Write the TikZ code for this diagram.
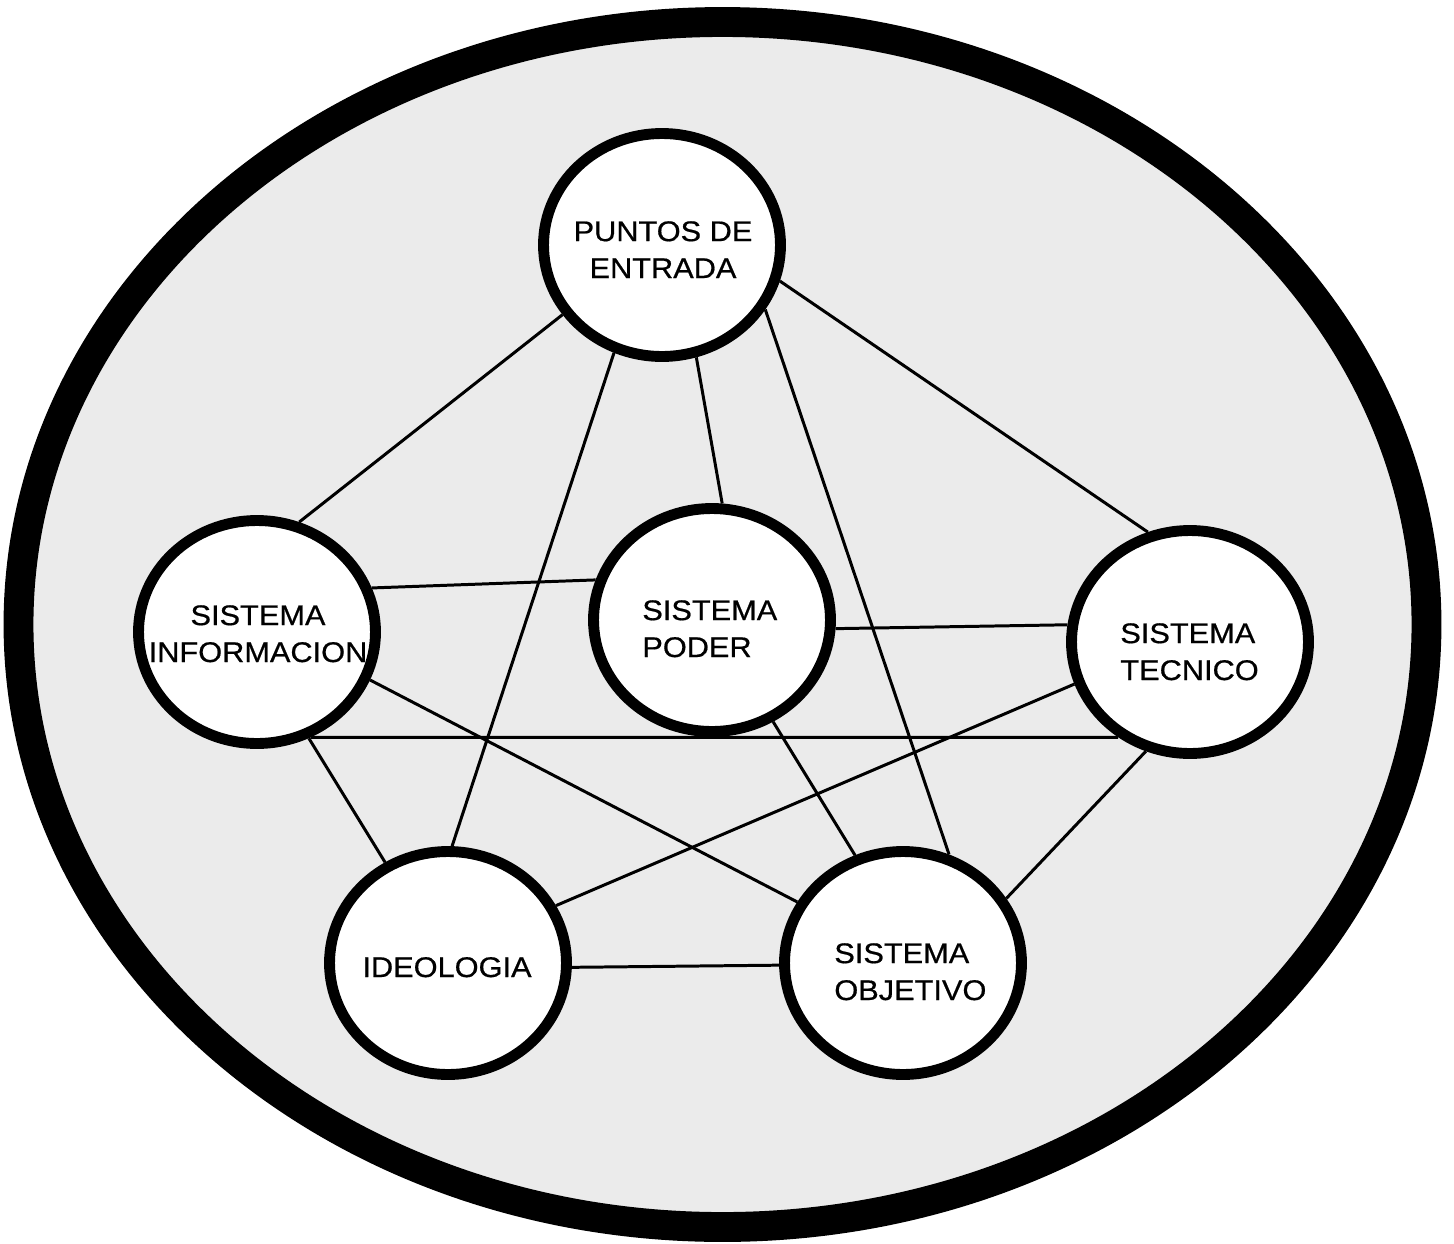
\documentclass[tikz,border=0pt]{standalone}
\usepackage{fontspec}
\newfontfamily\labfont[FakeStretch=1.08,FakeBold=0.6]{Liberation Sans}
\usetikzlibrary{shapes.geometric}
\definecolor{bgfill}{HTML}{EBEBEB}
\begin{document}
\begin{tikzpicture}[x=0.02cm, y=-0.02cm,
  bubble/.style={ellipse, draw=black, fill=white, line width=6.2pt,
    minimum width=4.74cm, minimum height=4.46cm, inner sep=0pt},
  link/.style={line width=1.7pt, draw=black},
  lbl/.style={font=\labfont\fontsize{16.2}{21}\selectfont, inner sep=0pt}]
\useasboundingbox (0,0) rectangle (1454,1244);
\fill[white] (0,0) rectangle (1454,1244);
\begin{scope}
\clip (0,0) rectangle (1454,1244);
\draw[line width=17pt, fill=bgfill] (722.5,624.5) ellipse [x radius=704, y radius=602.5];
\end{scope}
% bubbles
\node[bubble] (PE) at (662,245) {};
\node[bubble] (SI) at (257,632) {};
\node[bubble] (SP) at (712,620) {};
\node[bubble] (TEC) at (1190,642) {};
\node[bubble] (IDEO) at (448,963) {};
\node[bubble] (OBJ) at (903,963) {};
% connectors
\draw[link] (PE.215.6) -- (SI.69.9);
\draw[link] (PE.246.4) -- (IDEO.88.5);
\draw[link] (PE.287.4) -- (SP.85.2);
\draw[link] (PE.328.5) -- (OBJ.67.5);
\draw[link] (PE.343.9) -- (TEC.111.3);
\draw[link] (SI.21.2) -- (SP.161.6);
\draw[link] (SI.337.9) -- (OBJ.150.8);
\draw[link] (SI.297) -- (TEC.233.7);
\draw[link] (SI.296) -- (IDEO.122.6);
\draw[link] (SP.356.4) -- (TEC.172.1);
\draw[link] (SP.301.5) -- (OBJ.114.1);
\draw[link] (TEC.200.2) -- (IDEO.28.8);
\draw[link] (TEC.248.8) -- (OBJ.32.2);
\draw[link] (IDEO.358) -- (OBJ.181.4);
% labels (base anchor = baseline of last line)
\node[lbl, align=center, anchor=base] (tPE) at (663,278) {PUNTOS DE\\ENTRADA};
\node[lbl, align=center, anchor=base] (tSI) at (258,662) {SISTEMA\\INFORMACION};
\node[lbl, align=left, anchor=base west] (tSP) at (642,657) {SISTEMA\\PODER};
\node[lbl, align=left, anchor=base west] (tTEC) at (1120,680) {SISTEMA\\TECNICO};
\node[lbl, anchor=base] (tIDEO) at (447,977) {IDEOLOGIA};
\node[lbl, align=left, anchor=base west] (tOBJ) at (834,1000) {SISTEMA\\OBJETIVO};
\end{tikzpicture}
\end{document}
